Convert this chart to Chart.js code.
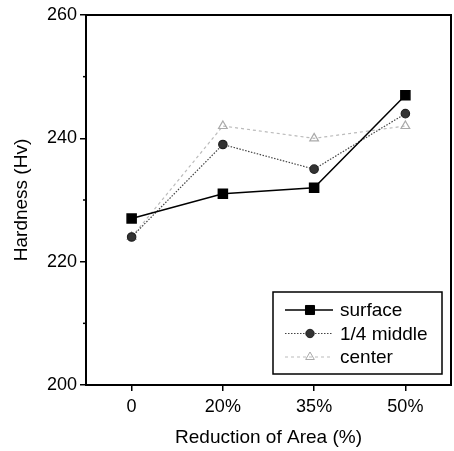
<!DOCTYPE html>
<html>
<head>
<meta charset="utf-8">
<script src="https://cdn.jsdelivr.net/npm/chart.js@4"></script>
<style>
  html, body { margin: 0; padding: 0; background: #fff; }
  #wrap { width: 454px; height: 451px; }
</style>
</head>
<body>
<div id="wrap"><canvas id="chart"></canvas></div>
<script>
const categories = ["0", "20%", "35%", "50%"];
const surface = [227, 231, 232, 247];
const middle = [224, 239, 235, 244];
const center = [224, 242, 240, 242];
const yTicks = [200, 220, 240, 260];
const yMinorTicks = [210, 230, 250];

const FONT = "'Liberation Sans', Arial, sans-serif";

// frame, minor ticks and the boxed legend inside the plot
const extras = {
    id: "extras",
    afterDraw(chart) {
        const ctx = chart.ctx;
        const area = chart.chartArea;
        const y = chart.scales.y;
        ctx.save();
        ctx.strokeStyle = "#000";
        ctx.lineWidth = 2;
        ctx.strokeRect(area.left, area.top, area.right - area.left, area.bottom - area.top);

        ctx.lineWidth = 1.5;
        yMinorTicks.forEach(v => {
            const py = y.getPixelForValue(v);
            ctx.beginPath();
            ctx.moveTo(area.left - 3, py);
            ctx.lineTo(area.left, py);
            ctx.stroke();
        });

        // legend
        const bx = area.left + 187, by = area.top + 277, bw = 169, bh = 82;
        ctx.fillStyle = "#fff";
        ctx.fillRect(bx, by, bw, bh);
        ctx.lineWidth = 1.5;
        ctx.strokeStyle = "#000";
        ctx.strokeRect(bx, by, bw, bh);
        ctx.font = "19px " + FONT;
        ctx.textBaseline = "middle";
        chart.data.datasets.forEach((ds, i) => {
            const ly = by + 18 + i * 23.5;
            ctx.save();
            ctx.strokeStyle = ds.borderColor;
            ctx.lineWidth = ds.borderWidth;
            ctx.setLineDash(ds.borderDash || []);
            ctx.beginPath();
            ctx.moveTo(bx + 12, ly);
            ctx.lineTo(bx + 60, ly);
            ctx.stroke();
            ctx.restore();
            ctx.save();
            ctx.fillStyle = ds.pointBackgroundColor;
            ctx.strokeStyle = ds.pointBorderColor;
            ctx.lineWidth = 1;
            Chart.helpers.drawPoint(ctx, {
                pointStyle: ds.pointStyle,
                radius: ds.pointRadius,
                borderWidth: 1,
                rotation: 0
            }, bx + 37, ly);
            ctx.restore();
            ctx.fillStyle = "#000";
            ctx.fillText(ds.label, bx + 67, ly + 1);
        });
        ctx.restore();
    }
};

new Chart(document.getElementById("chart").getContext("2d"), {
    type: "line",
    data: {
        labels: categories,
        datasets: [
            {
                label: "surface",
                data: surface,
                borderColor: "#000",
                borderWidth: 1.5,
                pointStyle: "rect",
                pointRadius: 6.4,
                pointBackgroundColor: "#000",
                pointBorderColor: "#000",
                tension: 0
            },
            {
                label: "1/4 middle",
                data: middle,
                borderColor: "#444",
                borderWidth: 1.2,
                borderDash: [1.5, 1.5],
                pointStyle: "circle",
                pointRadius: 4.2,
                pointBackgroundColor: "#333",
                pointBorderColor: "#222",
                tension: 0
            },
            {
                label: "center",
                data: center,
                borderColor: "#bbb",
                borderWidth: 1.2,
                borderDash: [3, 3],
                pointStyle: "triangle",
                pointRadius: 5,
                pointBackgroundColor: "rgba(255,255,255,0)",
                pointBorderColor: "#aaa",
                tension: 0
            }
        ]
    },
    options: {
        responsive: true,
        maintainAspectRatio: false,
        animation: false,
        layout: { autoPadding: false, padding: { top: 15, right: 3, left: 0, bottom: 0 } },
        plugins: {
            legend: { display: false },
            tooltip: { enabled: false }
        },
        scales: {
            x: {
                offset: true,
                afterFit: s => {
                    s.height = 66;
                    s.paddingLeft = 0;
                    s.paddingRight = 0;
                },
                grid: {
                    offset: false,
                    drawOnChartArea: false,
                    drawTicks: true,
                    tickLength: 6,
                    color: "#000",
                    lineWidth: 1.5
                },
                border: { display: true, color: "#000", width: 2 },
                ticks: { color: "#000", font: { family: FONT, size: 18 }, padding: 5 },
                title: {
                    display: true,
                    text: "Reduction of Area (%)",
                    color: "#000",
                    font: { family: FONT, size: 19 },
                    padding: { top: 0, bottom: 2 }
                }
            },
            y: {
                min: 200,
                max: 260,
                afterFit: s => {
                    s.width = 86;
                    s.paddingTop = 0;
                    s.paddingBottom = 0;
                },
                afterBuildTicks: s => { s.ticks = yTicks.map(v => ({ value: v })); },
                grid: {
                    drawOnChartArea: false,
                    drawTicks: true,
                    tickLength: 6,
                    color: "#000",
                    lineWidth: 1.5
                },
                border: { display: true, color: "#000", width: 2 },
                ticks: { color: "#000", font: { family: FONT, size: 18 }, padding: 3 },
                title: {
                    display: true,
                    text: "Hardness (Hv)",
                    color: "#000",
                    font: { family: FONT, size: 19 },
                    padding: { top: 10, bottom: 0 }
                }
            }
        }
    },
    plugins: [extras]
});
</script>
</body>
</html>
